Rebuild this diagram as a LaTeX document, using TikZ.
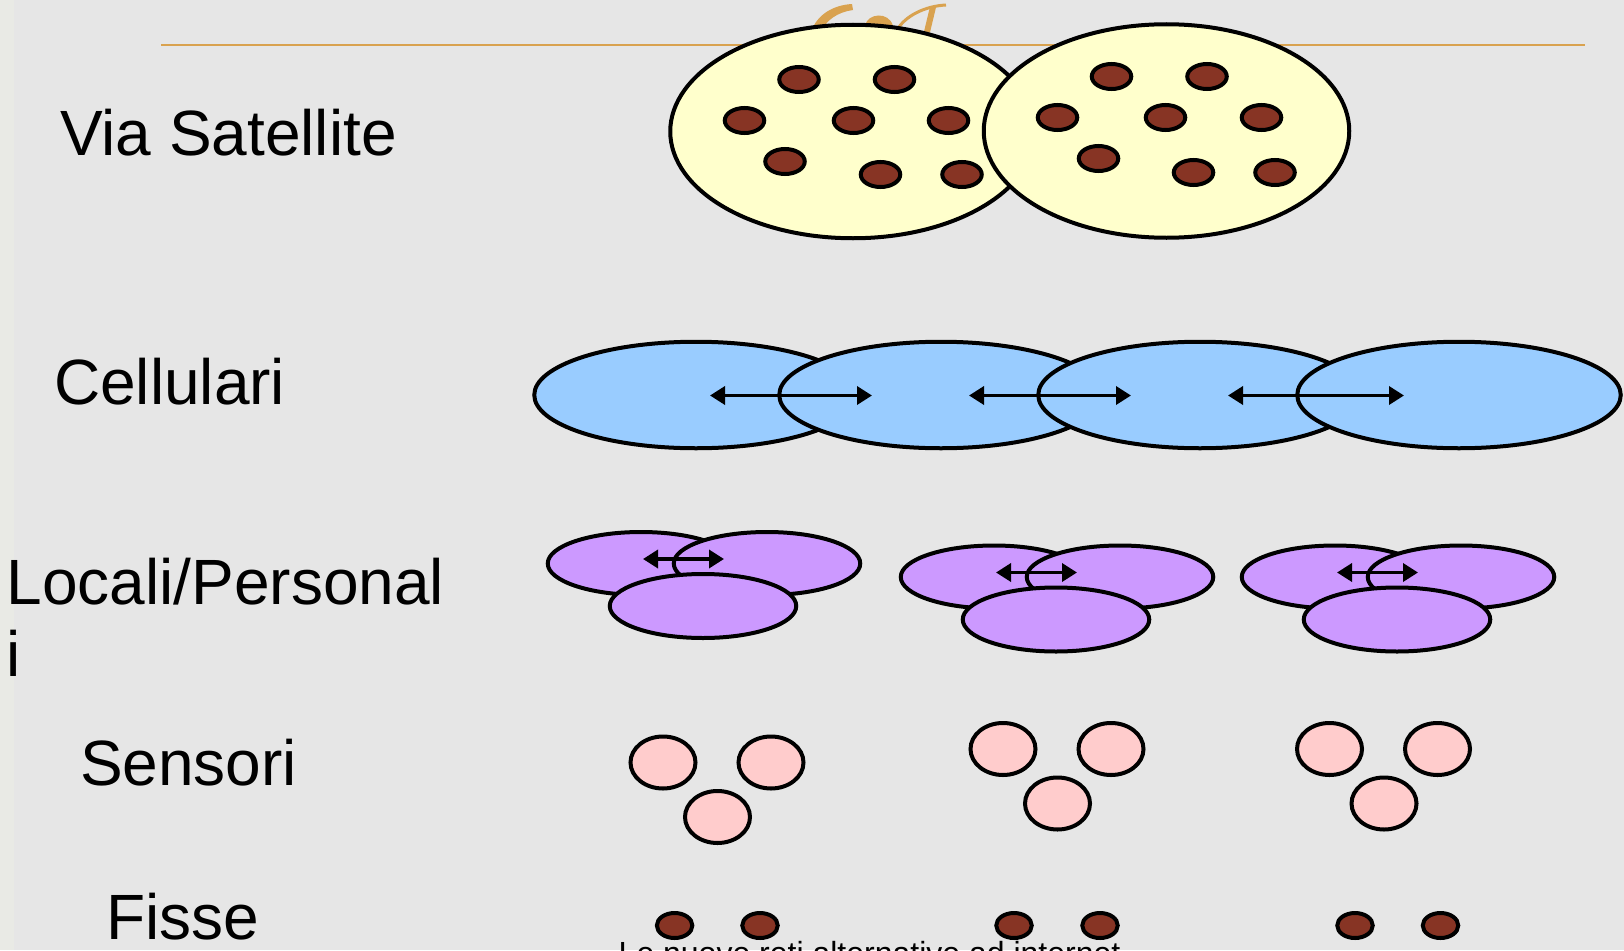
\documentclass[tikz,border=0pt]{standalone}
\usepackage{fontspec}
\setmainfont{Liberation Sans}
\usetikzlibrary{shapes.geometric,arrows.meta}

\definecolor{pagebg}{HTML}{E6E6E6}
\definecolor{edgeband}{HTML}{E9EAE5}
\definecolor{rule}{HTML}{D9A24F}
\definecolor{platefill}{HTML}{FFFFCC}
\definecolor{nodebrown}{HTML}{873424}
\definecolor{cellfill}{HTML}{99CCFF}
\definecolor{lanfill}{HTML}{CC99FF}
\definecolor{sensorfill}{HTML}{FFCCCC}

\tikzset{
  shape base/.style={ellipse, draw=black, line width=4pt, inner sep=0pt, outer sep=0pt},
  plate/.style={shape base, fill=platefill, minimum width=365.5pt, minimum height=213.5pt},
  satdot/.style={shape base, fill=nodebrown, minimum width=39.5pt, minimum height=25pt},
  cell/.style={shape base, fill=cellfill, minimum width=323.5pt, minimum height=106.5pt},
  lan/.style={shape base, fill=lanfill, minimum width=186.5pt, minimum height=63pt},
  sensor/.style={shape base, fill=sensorfill, minimum width=65pt, minimum height=52pt},
  fixdot/.style={shape base, fill=nodebrown, minimum width=35.5pt, minimum height=25pt},
  dbl/.style={{Triangle[length=15pt,width=18pt]}-{Triangle[length=15pt,width=18pt]}, line width=3.5pt},
  label/.style={anchor=base west, inner sep=0pt, outer sep=0pt, align=left,
    font=\fontsize{64}{72}\selectfont},
}

\begin{document}
\begin{tikzpicture}[x=1pt,y=-1pt]
\useasboundingbox (0,0) rectangle (1624,950);
\fill[pagebg] (0,0) rectangle (1624,950);
\fill[edgeband] (0,0) rectangle (14,950);

% title ornament and rule behind the satellite plates
\fill[rule] (852,4) .. controls (834,5) and (817,14) .. (811,32) -- (821,32)
  .. controls (826,20) and (838,12) .. (853,10) -- cycle;
\fill[rule] (865,26) .. controls (867,13) and (889,11) .. (893,26) -- cycle;
\draw[rule, line width=3pt] (897,30) .. controls (905,16) and (925,6) .. (946,5);
\draw[rule, line width=6pt] (933,7) -- (927,32);
\draw[rule, line width=2pt] (161,45.5) -- (1585,45.5);

% row labels (multi-line nodes sit on the baseline of their last line)
\node[label] (lsat) at (60,155) {Via Satellite};
\node[label] (lcell) at (54,404) {Cellulari};
\node[label] (llan) at (6.5,676) {Locali/Personal\\i};
\node[label] (lsens) at (80,785) {Sensori};
\node[label] (lfix) at (106,939) {Fisse};

% satellite footprints
\node[plate] (satA) at (853,131.5) {};
\foreach \i/\px/\py in {1/799/79.5, 2/894.5/79.5, 3/744.5/120.5, 4/853.5/120.5,
    5/948.5/120.5, 6/785/161.5, 7/880.5/174.5, 8/962/174.5}
  \node[satdot] (satA\i) at (\px,\py) {};
\node[plate] (satB) at (1166.5,131) {};
\foreach \i/\px/\py in {1/1111.5/76.5, 2/1207/76.5, 3/1057.5/117.5, 4/1165.5/117.5,
    5/1261.5/117.5, 6/1098.5/158.5, 7/1193.5/172.5, 8/1275/172.5}
  \node[satdot] (satB\i) at (\px,\py) {};

% cellular coverage
\node[cell] (cell1) at (696,395) {};
\node[cell] (cell2) at (941,395) {};
\node[cell] (cell3) at (1200,395) {};
\node[cell] (cell4) at (1459,395) {};
\coordinate (h1l) at (710,395.5);  \coordinate (h1r) at (872,395.5);
\coordinate (h2l) at (969,395.5);  \coordinate (h2r) at (1131,395.5);
\coordinate (h3l) at (1228,395.5); \coordinate (h3r) at (1404,395.5);
\draw[dbl] (h1l) -- (h1r);
\draw[dbl] (h2l) -- (h2r);
\draw[dbl] (h3l) -- (h3r);

% local / personal networks
\foreach \g/\dx/\dy in {1/0/0, 2/353/13.5, 3/694/13.5} {
  \node[lan] (lan\g a) at (641+\dx,563.5+\dy) {};
  \node[lan] (lan\g b) at (767+\dx,563.5+\dy) {};
  \coordinate (lan\g l) at (643+\dx,559+\dy);
  \coordinate (lan\g r) at (724+\dx,559+\dy);
  \draw[dbl] (lan\g l) -- (lan\g r);
  \node[lan, minimum height=64pt] (lan\g c) at (703+\dx,606+\dy) {};
}

% sensor clusters
\foreach \g/\dx/\dy in {1/0/0, 2/340/-13.5, 3/666.5/-13.5} {
  \node[sensor] (sens\g a) at (663+\dx,762.5+\dy) {};
  \node[sensor] (sens\g b) at (771+\dx,762.5+\dy) {};
  \node[sensor] (sens\g c) at (717.5+\dx,817+\dy) {};
}

% fixed hosts
\foreach \i/\px in {1/674.6, 2/760, 3/1014, 4/1100, 5/1355, 6/1440.5}
  \node[fixdot] (fix\i) at (\px,925.5) {};

% footer, running off the lower edge of the page
\node[anchor=base west, inner sep=0pt, font=\fontsize{32}{38}\selectfont] (footer)
  at (618.5,964) {Le nuove reti alternative ad internet};
\end{tikzpicture}
\end{document}
